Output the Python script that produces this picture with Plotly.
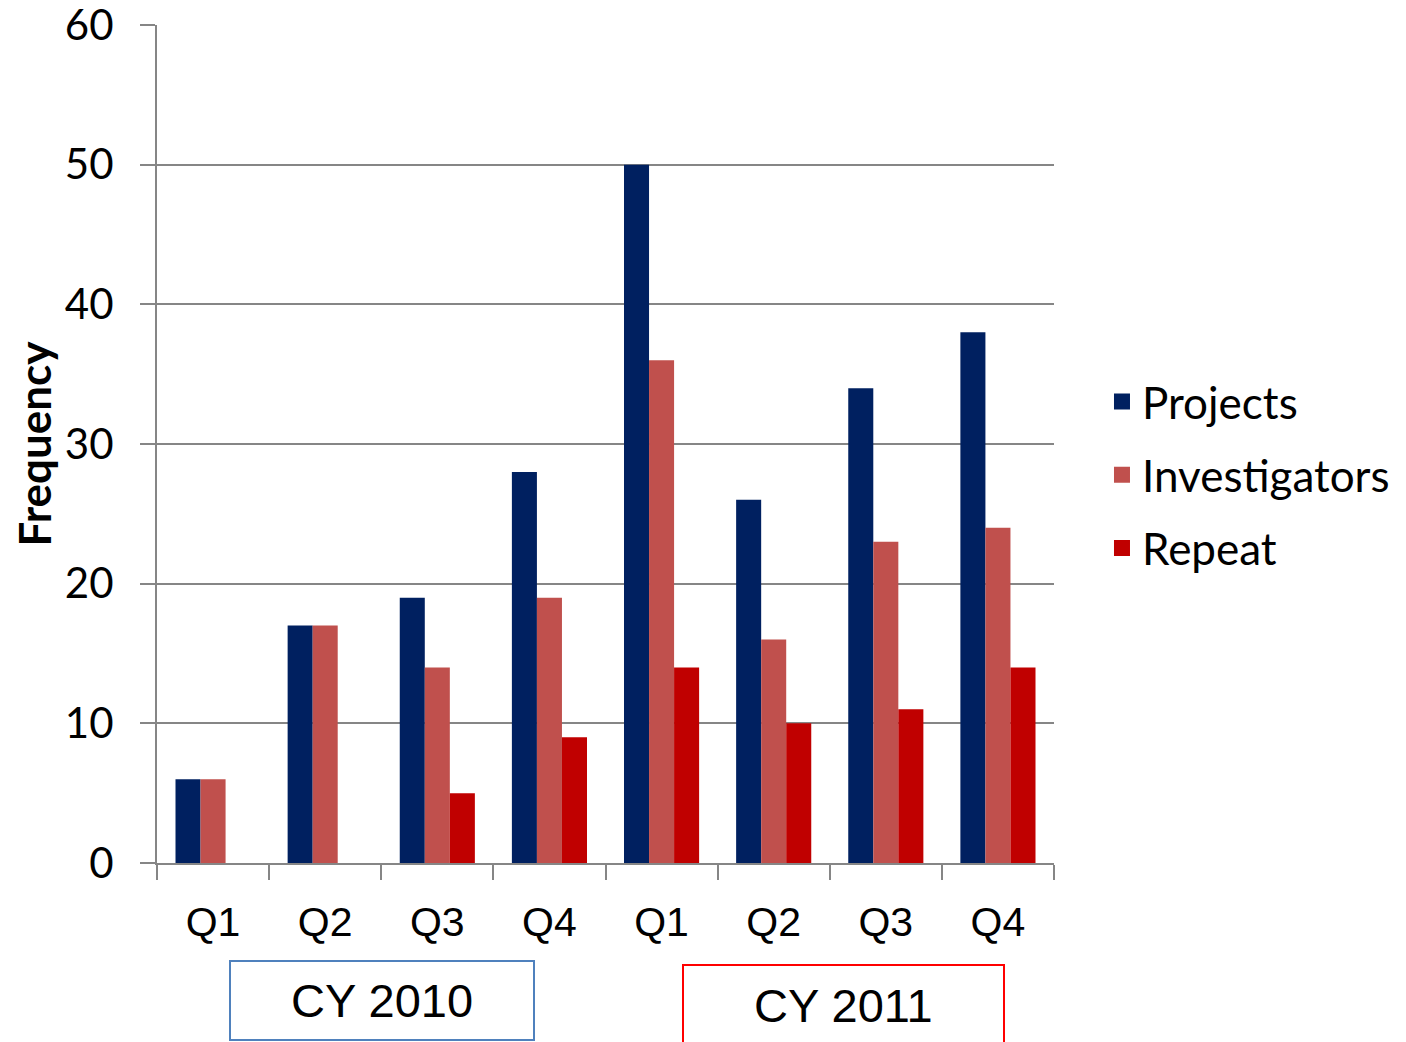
import plotly.graph_objects as go

categories = ["2010 Q1", "2010 Q2", "2010 Q3", "2010 Q4", "2011 Q1", "2011 Q2", "2011 Q3", "2011 Q4"]
tick_labels = ["Q1", "Q2", "Q3", "Q4", "Q1", "Q2", "Q3", "Q4"]
projects = [6, 17, 19, 28, 50, 26, 34, 38]
investigators = [6, 17, 14, 19, 36, 16, 23, 24]
repeat = [0, 0, 5, 9, 14, 10, 11, 14]
year_labels = ["CY 2010", "CY 2011"]

fig = go.Figure()
series = [("Projects", projects, "#002060"),
          ("Investigators", investigators, "#C0504D"),
          ("Repeat", repeat, "#C00000")]
for i, (name, vals, col) in enumerate(series):
    fig.add_trace(go.Bar(x=categories, y=vals, name=name, marker_color=col,
                         marker_line_width=0, legendgroup=f"g{i}", showlegend=False))
# legend entries with larger square swatches, linked to the bar traces
for i, (name, vals, col) in enumerate(series):
    fig.add_trace(go.Scatter(x=[None], y=[None], mode="markers", name=name,
                             marker=dict(symbol="square", size=27, color=col, line_width=0),
                             legendgroup=f"g{i}", showlegend=True, hoverinfo="skip"))

W, H = 1406, 1042
OFF = 8  # default page body margin
L, R, T, B = 157, 1054, 25, 863  # plot area in page pixels
fig.update_layout(
    template="none",
    width=W, height=H,
    margin=dict(l=L - OFF, r=W - (R - OFF), t=T - OFF, b=H - (B - OFF), autoexpand=False),
    plot_bgcolor="white", paper_bgcolor="white",
    barmode="group", bargap=0.33, bargroupgap=0,
    font=dict(family="Liberation Sans, Arial", size=38, color="black"),
    legend=dict(x=1.0535, y=0.463, xanchor="left", yanchor="middle",
                font=dict(family="Lato, Open Sans", size=44), itemsizing="trace",
                tracegroupgap=13, bgcolor="rgba(0,0,0,0)", borderwidth=0),
    showlegend=True,
)
fig.update_xaxes(
    type="category", tickmode="array", tickvals=categories, ticktext=tick_labels,
    tickson="boundaries", ticks="outside", ticklen=15, tickwidth=2, tickcolor="#868686",
    showline=True, linecolor="#868686", linewidth=2, showgrid=False, automargin=False,
    tickfont=dict(family="Liberation Sans, Arial", size=41), ticklabelstandoff=22,
    ticklabeloverflow="allow",
)
fig.update_yaxes(
    range=[0, 60], dtick=10, ticks="outside", ticklen=15, tickwidth=2, tickcolor="#868686",
    showline=True, linecolor="#868686", linewidth=2, automargin=False,
    showgrid=True, gridcolor="#868686", gridwidth=1.5, zeroline=False,
    tickfont=dict(family="Lato, Open Sans", size=42), ticklabelstandoff=18,
    ticklabeloverflow="allow",
    title=dict(text="<b>Frequency</b>", font=dict(family="Lato, Open Sans", size=44), standoff=20),
)

def px_x(p):
    return (p - L) / (R - L)

def px_y(p):
    return (B - p) / (B - T)

boxes = [(230, 534, 961, 1040, 1000, "#4F81BD", year_labels[0]),
         (683, 1004, 965, 1060, 1005, "#FF0000", year_labels[1])]
for x0, x1, y0, y1, yc, col, txt in boxes:
    fig.add_shape(type="rect", xref="paper", yref="paper",
                  x0=px_x(x0), x1=px_x(x1), y0=px_y(y0), y1=px_y(y1),
                  line=dict(color=col, width=2), fillcolor="rgba(0,0,0,0)")
    fig.add_annotation(xref="paper", yref="paper", x=px_x((x0 + x1) / 2),
                       y=px_y(yc), text=txt, showarrow=False,
                       font=dict(family="Liberation Sans, Arial", size=47),
                       xanchor="center", yanchor="middle")

fig.write_html("out.html")
